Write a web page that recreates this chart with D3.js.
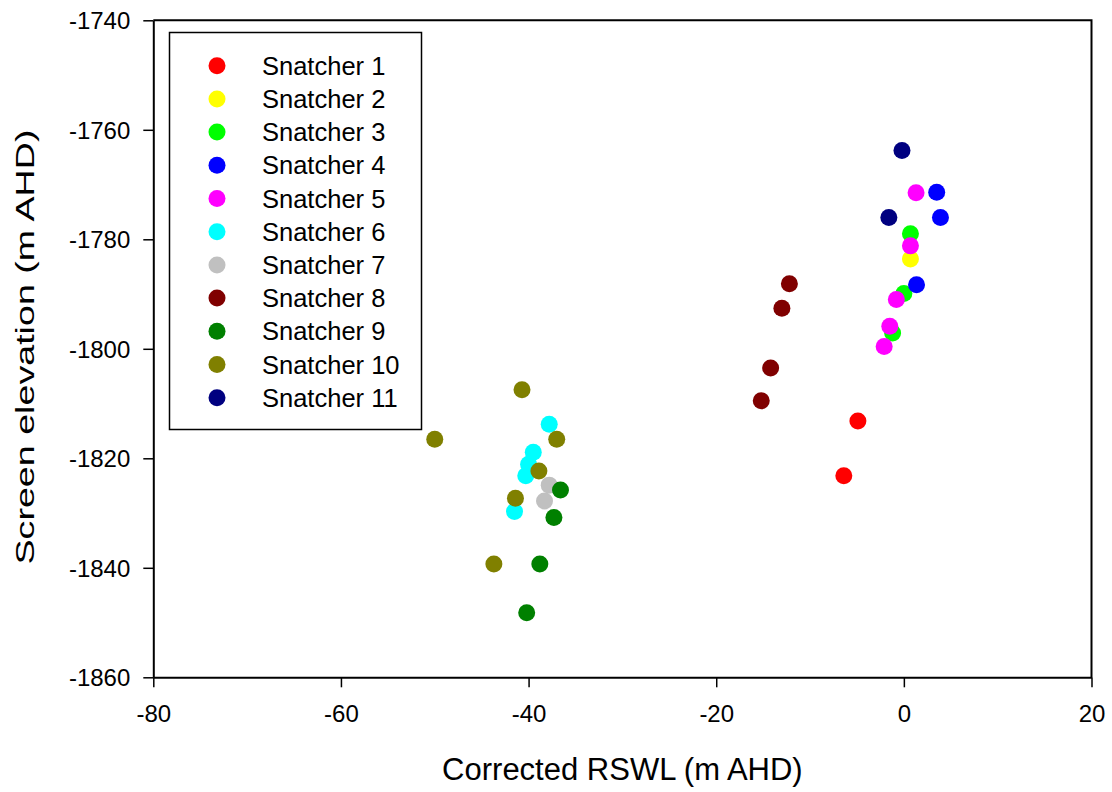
<!DOCTYPE html>
<html>
<head>
<meta charset="utf-8">
<script src="https://cdn.jsdelivr.net/npm/d3@7"></script>
<style>
  html, body { margin: 0; padding: 0; background: #ffffff; }
  svg { display: block; }
  text { font-family: Arial, "Liberation Sans", Helvetica, sans-serif; fill: #000; }
</style>
</head>
<body>
<svg id="chart" width="1112" height="792"></svg>
<script>
// Series names and marker colours
const seriesNames = ["Snatcher 1", "Snatcher 2", "Snatcher 3", "Snatcher 4", "Snatcher 5",
  "Snatcher 6", "Snatcher 7", "Snatcher 8", "Snatcher 9", "Snatcher 10", "Snatcher 11"];
const seriesColors = ["#ff0000", "#ffff00", "#00ff00", "#0000ff", "#ff00ff",
  "#00ffff", "#c0c0c0", "#800000", "#008000", "#808000", "#000080"];

// Corrected RSWL (m AHD) per snatcher
const rswl = [
  [-4.9, -6.4],
  [0.7],
  [0.7, 0.0, -1.2],
  [3.5, 3.9, 1.35],
  [1.3, 0.7, -0.8, -1.5, -2.1],
  [-37.8, -39.5, -40.0, -40.3, -41.5],
  [-37.8, -38.3],
  [-12.2, -13.0, -14.2, -15.2],
  [-36.6, -37.3, -38.8, -40.2],
  [-40.7, -50.0, -37.0, -38.9, -41.4, -43.7],
  [-0.2, -1.6]
];
// Screen elevation (m AHD) per snatcher
const elevation = [
  [-1813.2, -1823.2],
  [-1783.6],
  [-1779.0, -1789.9, -1797.1],
  [-1771.4, -1776.0, -1788.3],
  [-1771.5, -1781.2, -1791.0, -1795.9, -1799.6],
  [-1813.8, -1818.9, -1821.1, -1823.2, -1829.7],
  [-1824.9, -1827.8],
  [-1788.1, -1792.6, -1803.5, -1809.5],
  [-1825.8, -1830.8, -1839.3, -1848.2],
  [-1807.5, -1816.5, -1816.5, -1822.3, -1827.3, -1839.3],
  [-1763.8, -1776.0]
];

const xTicks = [-80, -60, -40, -20, 0, 20];
const yTicks = [-1740, -1760, -1780, -1800, -1820, -1840, -1860];
const xTitle = "Corrected RSWL (m AHD)";
const yTitle = "Screen elevation (m AHD)";

const svg = d3.select("#chart");
const plot = { left: 153.3, right: 1091.5, top: 20.3, bottom: 677.3 };

const x = d3.scaleLinear().domain([-80, 20]).range([plot.left, plot.right]);
const y = d3.scaleLinear().domain([-1860, -1740]).range([plot.bottom, plot.top]);

// Plain hyphen-minus labels without thousands separators
const plain = d => String(d);

// Frame: top and right edges close the box
svg.append("path")
  .attr("d", `M${plot.left},${plot.top}H${plot.right}V${plot.bottom}`)
  .attr("fill", "none").attr("stroke", "#000").attr("stroke-width", 2);

// Axes
const xAxis = svg.append("g")
  .attr("transform", `translate(0,${plot.bottom})`)
  .call(d3.axisBottom(x).tickValues(xTicks).tickFormat(plain)
    .tickSize(10).tickPadding(12).tickSizeOuter(0));
const yAxis = svg.append("g")
  .attr("transform", `translate(${plot.left},0)`)
  .call(d3.axisLeft(y).tickValues(yTicks).tickFormat(plain)
    .tickSize(10).tickPadding(13).tickSizeOuter(0));

[xAxis, yAxis].forEach(g => {
  g.select(".domain").attr("stroke", "#000").attr("stroke-width", 2);
  g.selectAll(".tick line").attr("stroke", "#000").attr("stroke-width", 1.5);
  g.selectAll(".tick text")
    .style("font-family", "Arial, 'Liberation Sans', sans-serif")
    .style("font-size", "24px")
    .attr("fill", "#000");
});
xAxis.selectAll(".tick text").attr("dy", "0.95em");
yAxis.selectAll(".tick text").attr("dy", "0.36em");

// Axis titles
svg.append("text")
  .attr("x", (plot.left + plot.right) / 2)
  .attr("y", 780)
  .attr("text-anchor", "middle")
  .style("font-size", "31px")
  .text(xTitle);

svg.append("text")
  .attr("transform", `translate(34,347) rotate(-90)`)
  .attr("text-anchor", "middle")
  .attr("textLength", 435)
  .attr("lengthAdjust", "spacingAndGlyphs")
  .style("font-size", "26px")
  .text(yTitle);

// Data points, one group per snatcher
const groups = svg.append("g").selectAll("g")
  .data(seriesNames.map((name, i) => ({
    name, color: seriesColors[i],
    pts: rswl[i].map((v, j) => ({ x: v, y: elevation[i][j] }))
  })))
  .join("g")
  .attr("fill", d => d.color);

groups.selectAll("circle")
  .data(d => d.pts)
  .join("circle")
  .attr("cx", d => x(d.x))
  .attr("cy", d => y(d.y))
  .attr("r", 8.5);

// Legend
const legend = svg.append("g");
legend.append("rect")
  .attr("x", 169.5).attr("y", 32.5)
  .attr("width", 252).attr("height", 397)
  .attr("fill", "#fff").attr("stroke", "#000").attr("stroke-width", 1.5);

const rowY = d3.scaleLinear().domain([0, seriesNames.length - 1]).range([65.7, 397.7]);
const rows = legend.selectAll("g.row")
  .data(seriesNames)
  .join("g")
  .attr("class", "row")
  .attr("transform", (d, i) => `translate(0,${rowY(i)})`);
rows.append("circle")
  .attr("cx", 217).attr("cy", 0).attr("r", 8.5)
  .attr("fill", (d, i) => seriesColors[i]);
rows.append("text")
  .attr("x", 262).attr("y", 9)
  .style("font-size", "25.5px")
  .text(d => d);
</script>
</body>
</html>
